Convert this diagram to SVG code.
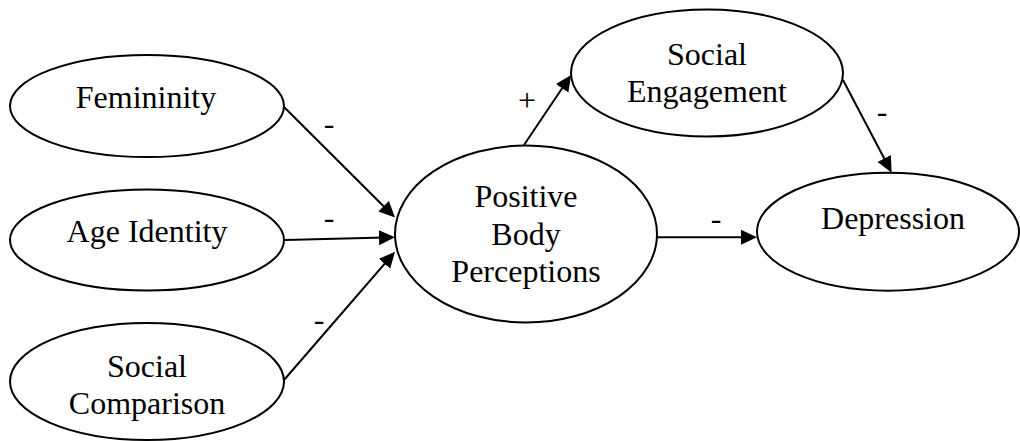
<svg xmlns="http://www.w3.org/2000/svg" width="1020" height="441" viewBox="0 0 1020 441">
<style>
  .node ellipse { fill: #ffffff; stroke: #000000; stroke-width: 2; }
  text { font-family: "Liberation Serif", "Times New Roman", serif; font-size: 32px; fill: #000000; text-anchor: middle; }
  .edge line { stroke: #000000; stroke-width: 2; fill: none; marker-end: url(#arrow); }
</style>
<defs>
  <marker id="arrow" viewBox="0 0 16 16" refX="6" refY="8" markerWidth="16" markerHeight="16" markerUnits="userSpaceOnUse" orient="auto">
    <path d="M0,0.5 L16,8 L0,15.5 z" fill="#000000"/>
  </marker>
</defs>
<rect width="1020" height="441" fill="#ffffff"/>
<g id="connectors" class="edge">
  <line x1="284" y1="107" x2="387.9" y2="210.5"/>
  <line x1="285" y1="240" x2="385" y2="237.6"/>
  <line x1="284" y1="380" x2="388.45" y2="259.3"/>
  <line x1="524" y1="145" x2="565.5" y2="83.3"/>
  <line x1="843" y1="80" x2="887" y2="163.8"/>
  <line x1="657" y1="237.3" x2="747" y2="237.3"/>
  <text x="329" y="134">-</text>
  <text x="329" y="228">-</text>
  <text x="319" y="330">-</text>
  <text x="527" y="111">+</text>
  <text x="882" y="122">-</text>
  <text x="716" y="229">-</text>
</g>
<g id="femininity" class="node">
  <ellipse cx="147" cy="106" rx="137" ry="51"/>
  <text x="146" y="108">Femininity</text>
</g>
<g id="age-identity" class="node">
  <ellipse cx="147" cy="240" rx="137" ry="50.5"/>
  <text x="147" y="241.5">Age Identity</text>
</g>
<g id="social-comparison" class="node">
  <ellipse cx="147" cy="381.5" rx="137" ry="58.5"/>
  <text x="147" y="377">Social</text>
  <text x="147" y="413.5">Comparison</text>
</g>
<g id="positive-body-perceptions" class="node">
  <ellipse cx="526" cy="234" rx="131" ry="88.5"/>
  <text x="526" y="207">Positive</text>
  <text x="526" y="245">Body</text>
  <text x="526" y="282">Perceptions</text>
</g>
<g id="social-engagement" class="node">
  <ellipse cx="707" cy="73" rx="136" ry="63.5"/>
  <text x="707" y="65">Social</text>
  <text x="707" y="102">Engagement</text>
</g>
<g id="depression" class="node">
  <ellipse cx="888" cy="231.7" rx="131" ry="59"/>
  <text x="893" y="228.5">Depression</text>
</g>
</svg>
